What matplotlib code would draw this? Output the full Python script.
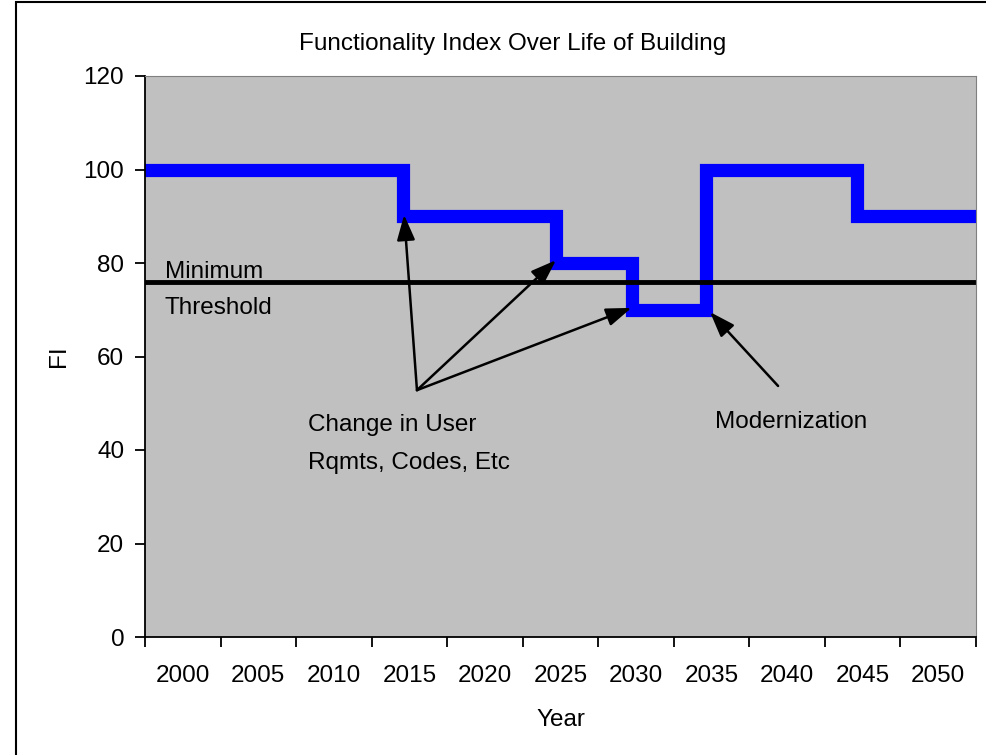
import numpy as np
import matplotlib
matplotlib.use("Agg")
import matplotlib.pyplot as plt
from matplotlib.patches import Rectangle

plt.rcParams['font.family'] = ['Liberation Sans', 'DejaVu Sans']

# step profile of the functionality index
step_years = [1997.5, 2014.6, 2024.7, 2029.75, 2034.65, 2044.6, 2052.5]
step_fi = [100, 90, 80, 70, 100, 90, 90]
threshold = 76

year_labels = [2000, 2005, 2010, 2015, 2020, 2025, 2030, 2035, 2040, 2045, 2050]

# arrows: (tail, head)
change_arrows = [((2015.5, 52.8), (2014.65, 90.3)),
                 ((2015.5, 52.8), (2024.7, 80.6)),
                 ((2015.5, 52.8), (2029.7, 70.4))]
modern_arrow = ((2039.4, 53.7), (2034.9, 69.5))

fs = 17.5

fig = plt.figure(figsize=(9.87, 7.55), dpi=100)
ax = fig.add_axes([145/987, 1-637/755, 831/987, 561/755])
ax.set_facecolor('#c0c0c0')

ax.step(step_years, step_fi, where='post', color='#0000ff', lw=9.5, solid_joinstyle='miter')
ax.axhline(threshold, color='black', lw=3.5)

for tail, head in change_arrows + [modern_arrow]:
    ax.annotate('', xy=head, xytext=tail,
                arrowprops=dict(arrowstyle='-|>,head_length=0.7,head_width=0.25', color='black',
                                lw=1.8, mutation_scale=22, shrinkA=0, shrinkB=0))

ax.text(2008.3, 41.3, 'Change in User\nRqmts, Codes, Etc', fontsize=fs, ha='left', va='center', linespacing=1.9)
ax.text(2035.2, 46, 'Modernization', fontsize=fs, ha='left', va='center')
ax.text(1998.8, 74.2, 'Minimum\nThreshold', fontsize=fs, ha='left', va='center', linespacing=1.8)

ax.set_xlim(1997.5, 2052.5)
ax.set_ylim(0, 120)
ax.set_yticks(np.arange(0, 121, 20))
ax.set_xticks(np.arange(1997.5, 2053, 5))
ax.set_xticklabels([])
ax.set_xticks(year_labels, minor=True)
ax.set_xticklabels([str(y) for y in year_labels], minor=True)
ax.tick_params(axis='x', which='minor', length=0, pad=20, labelsize=fs)
ax.tick_params(axis='x', which='major', length=7, width=1.3, direction='out')
ax.tick_params(axis='y', length=7, width=1.3, direction='out', labelsize=fs, pad=8)

for s in ['top', 'right']:
    ax.spines[s].set_color('#808080')
for s in ['left', 'bottom']:
    ax.spines[s].set_color('black')
    ax.spines[s].set_linewidth(1.3)

ax.set_xlabel('Year', fontsize=fs, labelpad=16)
ax.set_ylabel('FI', fontsize=fs, labelpad=10)
fig.text(513/987, 1-44/755, 'Functionality Index Over Life of Building', fontsize=fs,
         ha='center', va='center')

fig.patches.append(Rectangle((16/987, -0.1), 1.2, 1.1 - 2/755, transform=fig.transFigure,
                             fill=False, edgecolor='black', lw=1.5))

fig.savefig('out.png', dpi=100, facecolor='white')
